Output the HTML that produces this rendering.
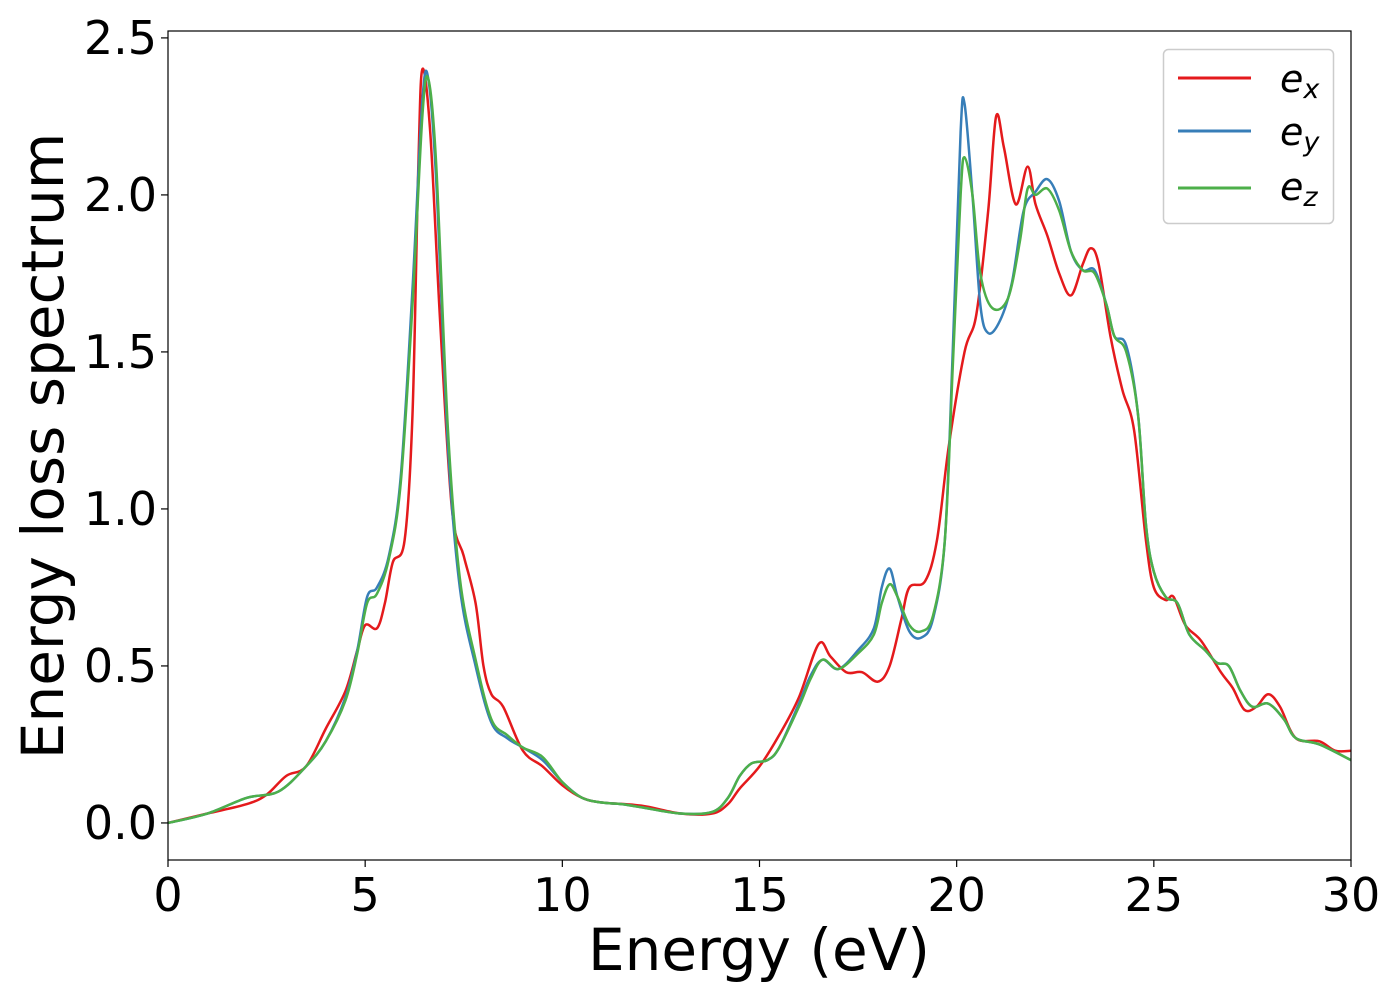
<!DOCTYPE html>
<html><head><meta charset="utf-8"><style>
body{margin:0;background:#fff;}
svg text{font-family:"DejaVu Sans","Liberation Sans",sans-serif;fill:#000;}
</style></head><body>
<svg id="chart" width="1400" height="1000" xmlns="http://www.w3.org/2000/svg"></svg>
<script>
const exX=[0,1,2,2.5,3,3.5,4,4.5,4.8,5,5.3,5.5,5.7,6,6.2,6.35,6.45,6.65,6.9,7.2,7.5,7.8,8,8.2,8.5,9,9.5,10,10.5,11,12,13,13.8,14.2,14.5,15,15.5,16,16.5,16.8,17.2,17.6,18,18.3,18.6,18.8,19.2,19.5,19.8,20.2,20.5,20.8,21,21.2,21.5,21.8,22,22.3,22.6,22.9,23.2,23.4,23.6,23.9,24.2,24.5,24.8,25,25.3,25.5,25.8,26.2,26.7,27,27.3,27.6,27.9,28.2,28.6,29.2,29.6,30];
const exY=[0,0.03,0.06,0.09,0.15,0.18,0.3,0.42,0.55,0.63,0.62,0.7,0.83,0.9,1.3,2.1,2.4,2.2,1.6,1.0,0.85,0.7,0.5,0.41,0.37,0.23,0.18,0.12,0.08,0.065,0.055,0.03,0.03,0.06,0.11,0.18,0.28,0.4,0.57,0.53,0.48,0.48,0.45,0.5,0.65,0.75,0.77,0.9,1.2,1.5,1.62,1.95,2.25,2.15,1.97,2.09,1.97,1.87,1.75,1.68,1.78,1.83,1.78,1.55,1.38,1.25,0.9,0.75,0.71,0.72,0.63,0.58,0.48,0.43,0.36,0.37,0.41,0.37,0.27,0.26,0.23,0.23];
const eyX=[0,1,2,2.8,3.5,4,4.5,4.8,5.05,5.3,5.6,5.9,6.2,6.45,6.6,6.8,7.1,7.4,7.8,8.2,8.6,9,9.5,10,10.5,11,11.5,12,13,13.8,14.2,14.5,14.8,15.2,15.5,16,16.3,16.6,17,17.5,17.9,18.1,18.3,18.5,18.8,19.1,19.4,19.7,19.9,20.1,20.2,20.4,20.6,20.8,21.1,21.4,21.7,22,22.3,22.6,22.9,23.2,23.5,23.8,24,24.3,24.6,24.8,25,25.3,25.6,25.9,26.3,26.6,26.9,27.2,27.5,27.9,28.3,28.6,29.2,30];
const eyY=[0,0.03,0.08,0.1,0.18,0.26,0.4,0.55,0.72,0.75,0.85,1.1,1.7,2.3,2.37,2.05,1.2,0.75,0.5,0.32,0.27,0.24,0.2,0.13,0.08,0.065,0.06,0.05,0.03,0.035,0.08,0.15,0.19,0.2,0.24,0.38,0.47,0.52,0.49,0.55,0.62,0.75,0.81,0.72,0.61,0.59,0.65,0.9,1.5,2.2,2.29,2.0,1.65,1.56,1.6,1.72,1.95,2.01,2.05,1.98,1.82,1.76,1.76,1.65,1.55,1.52,1.3,0.95,0.8,0.72,0.7,0.6,0.55,0.51,0.5,0.42,0.37,0.38,0.33,0.27,0.25,0.2];
const ezX=[0,1,2,2.8,3.5,4,4.5,4.8,5.05,5.3,5.6,5.9,6.2,6.45,6.6,6.8,7.1,7.4,7.8,8.2,8.6,9,9.5,10,10.5,11,11.5,12,13,13.8,14.2,14.5,14.8,15.2,15.5,16,16.3,16.6,17,17.5,17.9,18.1,18.3,18.5,18.8,19.1,19.4,19.7,19.9,20.1,20.2,20.4,20.6,20.9,21.3,21.6,21.8,22,22.3,22.6,22.9,23.2,23.5,23.8,24,24.3,24.6,24.8,25,25.3,25.6,25.9,26.3,26.6,26.9,27.2,27.5,27.9,28.3,28.6,29.2,30];
const ezY=[0,0.03,0.08,0.1,0.18,0.26,0.39,0.54,0.7,0.73,0.84,1.08,1.65,2.25,2.37,2.1,1.25,0.78,0.52,0.33,0.28,0.24,0.21,0.13,0.08,0.065,0.06,0.05,0.03,0.035,0.08,0.15,0.19,0.2,0.24,0.37,0.46,0.52,0.49,0.54,0.6,0.7,0.76,0.72,0.63,0.61,0.66,0.9,1.45,2.0,2.12,2.0,1.75,1.64,1.67,1.85,2.02,2.0,2.02,1.95,1.82,1.76,1.75,1.65,1.55,1.5,1.3,0.95,0.8,0.72,0.7,0.6,0.55,0.51,0.5,0.42,0.37,0.38,0.33,0.27,0.25,0.2];
const xTicks=[0,5,10,15,20,25,30];
const yTicks=[0,0.5,1.0,1.5,2.0,2.5];
const seriesNames=["x","y","z"];
const seriesColors=["#e41a1c","#377eb8","#4daf4a"];

const L=168,R=1351,T=31,B=860,xMin=0,xMax=30,yMin=-0.118,yMax=2.522;
const sx=v=>L+(v-xMin)/(xMax-xMin)*(R-L);
const sy=v=>B-(v-yMin)/(yMax-yMin)*(B-T);
const svg=document.getElementById('chart');
const NS='http://www.w3.org/2000/svg';
function mk(tag,attrs,parent){const e=document.createElementNS(NS,tag);for(const k in attrs)e.setAttribute(k,attrs[k]);(parent||svg).appendChild(e);return e;}
function path(xs,ys){const p=xs.map((x,i)=>[sx(x),sy(ys[i])]);let d='M'+p[0][0]+','+p[0][1];
 for(let i=0;i<p.length-1;i++){const p0=p[Math.max(0,i-1)],p1=p[i],p2=p[i+1],p3=p[Math.min(p.length-1,i+2)];
 const t=1/6;d+=' C'+(p1[0]+(p2[0]-p0[0])*t)+','+(p1[1]+(p2[1]-p0[1])*t)+' '+(p2[0]-(p3[0]-p1[0])*t)+','+(p2[1]-(p3[1]-p1[1])*t)+' '+p2[0]+','+p2[1];}
 return d;}
const clip=mk('clipPath',{id:'pc'});mk('rect',{x:L,y:T,width:R-L,height:B-T},clip);
const data=[[exX,exY],[eyX,eyY],[ezX,ezY]];
data.forEach((s,i)=>{const e=mk('path',{d:path(s[0],s[1]),fill:'none',stroke:seriesColors[i],'stroke-width':2.5,'clip-path':'url(#pc)'});

});
const frame=mk('rect',{x:L,y:T,width:R-L,height:B-T,fill:'none',stroke:'#000','stroke-width':1.2});


xTicks.forEach(v=>{const x=sx(v);mk('line',{x1:x,x2:x,y1:B,y2:B+7,stroke:'#000','stroke-width':1.2});
const t=mk('text',{x:x,y:B+51,'font-size':46,'text-anchor':'middle'});t.textContent=v;

});
yTicks.forEach(v=>{const y=sy(v);mk('line',{x1:L,x2:L-7,y1:y,y2:y,stroke:'#000','stroke-width':1.2});
const t=mk('text',{x:L-11,y:y+16,'font-size':46,'text-anchor':'end'});t.textContent=v.toFixed(1);

});
</script>
<svg style="position:absolute;left:0;top:0" width="1400" height="1000" xmlns="http://www.w3.org/2000/svg">
<text x="759" y="970" font-size="58" text-anchor="middle" font-family="DejaVu Sans, Liberation Sans, sans-serif">Energy (eV)</text>
<text transform="translate(63,446) rotate(-90)" font-size="58" text-anchor="middle" font-family="DejaVu Sans, Liberation Sans, sans-serif">Energy loss spectrum</text>
<g font-family="DejaVu Sans, Liberation Sans, sans-serif" font-style="italic">
<rect x="1163.5" y="49.5" width="170" height="174" rx="5" fill="#fff" fill-opacity="0.8" stroke="#ccc" stroke-width="1.5"/>
<line x1="1178" x2="1251" y1="78" y2="78" stroke="#e41a1c" stroke-width="3"/>
<text x="1280" y="92" font-size="38">e<tspan font-size="27" dy="6">x</tspan></text>
<line x1="1178" x2="1251" y1="131" y2="131" stroke="#377eb8" stroke-width="3"/>
<text x="1280" y="145" font-size="38">e<tspan font-size="27" dy="6">y</tspan></text>
<line x1="1178" x2="1251" y1="188" y2="188" stroke="#4daf4a" stroke-width="3"/>
<text x="1280" y="200" font-size="38">e<tspan font-size="27" dy="6">z</tspan></text>
</g>
</svg>
</body></html>
